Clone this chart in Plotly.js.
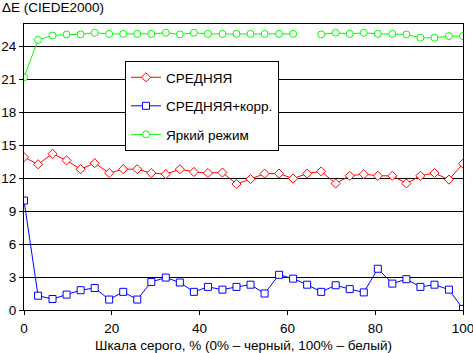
<!DOCTYPE html>
<html><head><meta charset="utf-8">
<script src="https://cdn.plot.ly/plotly-3.0.1.min.js"></script>
<style>html,body{margin:0;padding:0;background:#fff}#chart{width:473px;height:353px}</style>
</head><body><div id="chart"></div>
<script>
const greyLevels = [0, 3.2, 6.5, 9.7, 12.9, 16.1, 19.4, 22.6, 25.8, 29.0, 32.3, 35.5, 38.7, 41.9, 45.2, 48.4, 51.6, 54.8, 58.1, 61.3, 64.5, 67.7, 71.0, 74.2, 77.4, 80.6, 83.9, 87.1, 90.3, 93.5, 96.8, 100];
const avgValues = [13.9, 13.25, 14.2, 13.6, 12.8, 13.35, 12.45, 12.8, 12.8, 12.45, 12.35, 12.8, 12.55, 12.45, 12.5, 11.45, 11.9, 12.4, 12.4, 11.95, 12.4, 12.6, 11.5, 12.2, 12.35, 12.2, 12.2, 11.5, 12.2, 12.45, 11.85, 13.3];
const avgCorrValues = [9.95, 1.3, 1.0, 1.4, 1.8, 2.0, 0.95, 1.65, 0.95, 2.55, 2.95, 2.5, 1.65, 2.1, 1.85, 2.1, 2.3, 1.5, 3.2, 2.85, 2.3, 1.65, 2.25, 1.9, 1.6, 3.75, 2.4, 2.8, 2.1, 2.3, 1.85, 0.1];
const brightValues = [21.15, 24.55, 24.95, 25.05, 25.05, 25.2, 25.1, 25.1, 25.1, 25.1, 25.2, 25.05, 25.2, 25.1, 25.1, 25.1, 25.1, 25.1, 25.1, 25.1, null, 25.05, 25.2, 25.1, 25.2, 25.1, 25.1, 25.05, 24.75, 24.75, 24.9, 24.9];
const seriesNames = ['СРЕДНЯЯ', 'СРЕДНЯЯ+корр.', 'Яркий режим'];
const xTicks = [0, 20, 40, 60, 80, 100];
const yTicks = [0, 3, 6, 9, 12, 15, 18, 21, 24];

const FONT = 'Arial, "Liberation Sans", sans-serif';
function tr(y, name, color, sym, size, grp) {
  return {x: greyLevels, y: y, name: name, type: 'scatter', mode: 'lines+markers',
    connectgaps: false, legendgroup: grp,
    line: {color: color, width: 1},
    marker: {symbol: sym, size: size, color: '#ffffff', line: {color: color, width: 1}}};
}
const data = [
  tr(avgValues, seriesNames[0], '#ff0000', 'diamond', 7, 'a'),
  tr(avgCorrValues, seriesNames[1], '#0000ff', 'square', 7, 'b'),
  tr(brightValues, seriesNames[2], '#00ff00', 'circle', 7, 'c')
];
const layout = {
  width: 473, height: 353,
  margin: {l: 24, r: 10, t: 24, b: 43},
  paper_bgcolor: '#ffffff', plot_bgcolor: '#ffffff',
  font: {family: FONT, size: 13.5, color: '#000'},
  title: {text: 'ΔE (CIEDE2000)', xref: 'container', yref: 'container', x: 2/473, xanchor: 'left',
    y: 0.994, yanchor: 'top', pad: {t: 0, l: 0}, font: {family: FONT, size: 13.5, color: '#000'}},
  xaxis: {range: [0, 100], tickvals: xTicks, ticks: 'outside', ticklen: 4, tickcolor: '#000',
    ticklabeloverflow: 'allow', ticklabelstandoff: 2,
    showline: true, linecolor: '#000', linewidth: 1, mirror: true, showgrid: false, zeroline: false,
    title: {text: 'Шкала серого, % (0% – черный, 100% – белый)', standoff: 7, font: {family: FONT, size: 13.5}}},
  yaxis: {range: [0, 26], tickvals: yTicks, ticks: 'outside', ticklen: 4, tickcolor: '#000',
    showline: true, linecolor: '#000', linewidth: 1, mirror: true, showgrid: true, gridcolor: '#000', gridwidth: 1,
    zeroline: false},
  showlegend: true,
  legend: {x: (125-24)/439, y: (310-61)/286, xanchor: 'left', yanchor: 'top', bgcolor: '#ffffff',
    bordercolor: '#000', borderwidth: 1, traceorder: 'grouped', tracegroupgap: 8,
    font: {family: FONT, size: 13.5, color: '#000'}}
};
Plotly.newPlot('chart', data, layout, {displayModeBar: false, staticPlot: true});
</script></body></html>
